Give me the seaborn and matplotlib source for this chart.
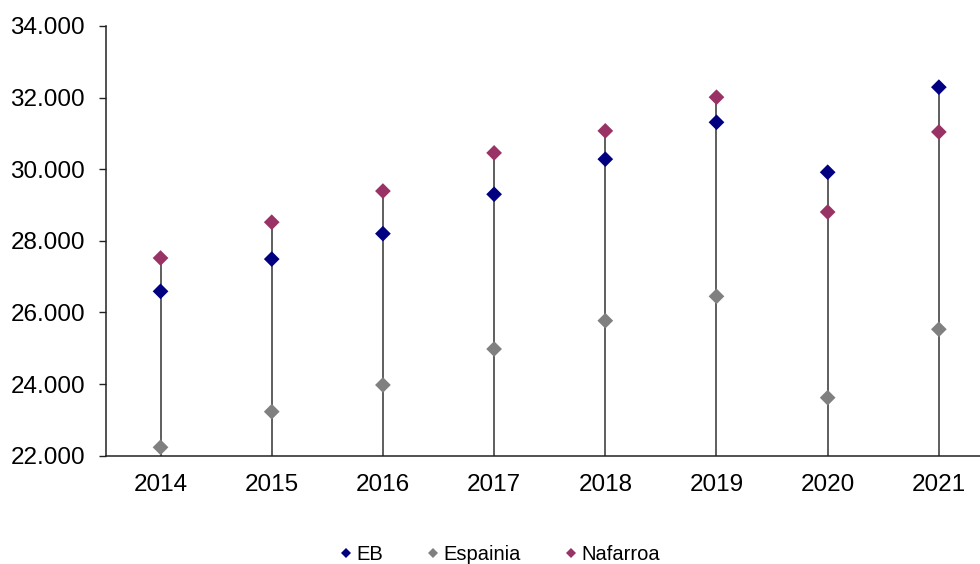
import pandas as pd
import numpy as np
import matplotlib.pyplot as plt
import seaborn as sns

# data
years = [2014, 2015, 2016, 2017, 2018, 2019, 2020, 2021]
eb = [26590, 27490, 28200, 29300, 30280, 31310, 29915, 32290]
espainia = [22235, 23230, 23975, 24980, 25770, 26450, 23620, 25530]
nafarroa = [27520, 28520, 29390, 30455, 31070, 32010, 28805, 31040]
series_names = ["EB", "Espainia", "Nafarroa"]
colors = ["#000080", "#808080", "#993366"]

sns.set_style("white")
plt.rcParams['font.family'] = ['Liberation Sans', 'DejaVu Sans']
plt.rcParams['text.color'] = 'black'
plt.rcParams['xtick.color'] = 'black'
plt.rcParams['ytick.color'] = 'black'

df = pd.DataFrame({"year": years, "EB": eb, "Espainia": espainia, "Nafarroa": nafarroa})
long_df = df.melt(id_vars="year", var_name="serie", value_name="value")

fig = plt.figure(figsize=(9.8, 5.64), dpi=100)
ax = fig.add_axes([0.108, 0.192, 0.892, 0.762])

# drop lines from the highest value of each year down to the axis
top = df[series_names].max(axis=1)
ax.vlines(df["year"], 22000, top, color="#333333", linewidth=1.1, zorder=1)

sns.scatterplot(data=long_df, x="year", y="value", hue="serie",
                hue_order=series_names, palette=colors, marker="D",
                s=64, linewidth=0, ax=ax, zorder=3)

ax.set_ylim(22000, 34000)
ax.set_yticks(np.arange(22000, 34001, 2000))
ax.yaxis.set_major_formatter(plt.FuncFormatter(lambda v, p: f"{v:,.0f}".replace(",", ".")))
ax.set_xlim(years[0] - 0.492, years[0] + 7.37)
ax.set_xticks(years)
ax.set_xlabel("")
ax.set_ylabel("")

for s in ["top", "right"]:
    ax.spines[s].set_visible(False)
for s in ["left", "bottom"]:
    ax.spines[s].set_color("#222222")
    ax.spines[s].set_linewidth(1.1)
ax.tick_params(axis="y", direction="out", length=5, width=1, color="#222222",
               labelsize=17.5, pad=10, left=True)
ax.tick_params(axis="x", length=0, labelsize=17.5, pad=13)

handles, labels = ax.get_legend_handles_labels()
ax.get_legend().remove()
fig.legend(handles, labels, loc="center", bbox_to_anchor=(0.508, 0.016),
           ncol=3, frameon=False, fontsize=14.5, markerscale=0.65,
           handletextpad=0.0, columnspacing=2.0, handlelength=1.0)

fig.savefig("out.png", dpi=100)
